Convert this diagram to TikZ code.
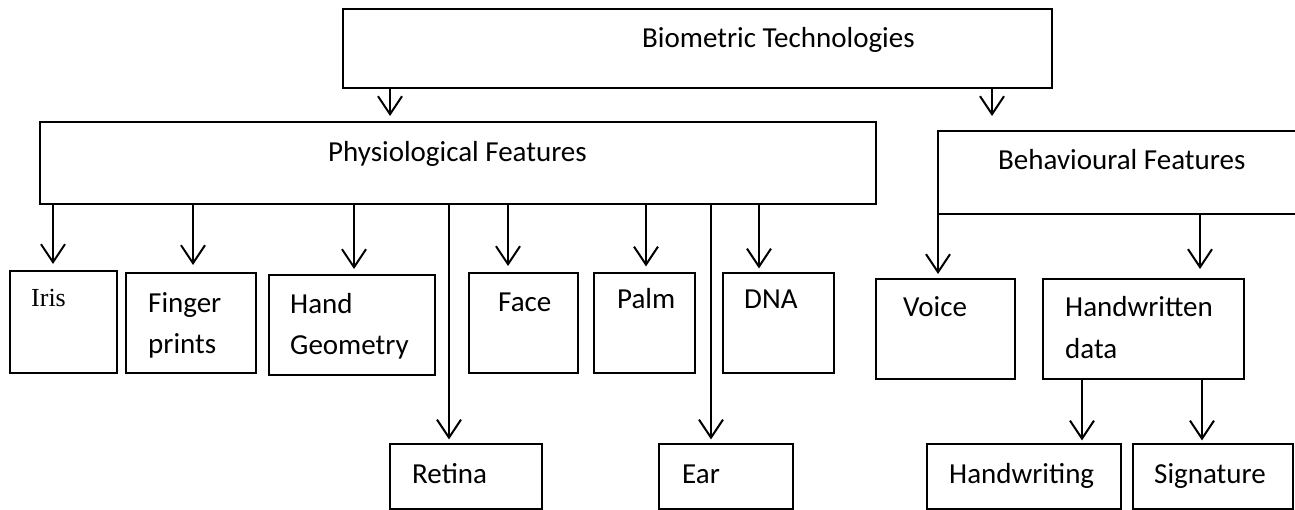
\documentclass[tikz,border=0pt]{standalone}
\usepackage{fontspec}
\setmainfont{Carlito}
\newfontfamily\timesfont{Liberation Serif}
\usetikzlibrary{arrows.meta}
\tikzstyle{box} = [rectangle, draw, line width=2pt, inner sep=0pt]
\tikzstyle{thinbox} = [rectangle, draw, line width=1.2pt, inner sep=0pt]
\tikzstyle{txt} = [anchor=base west, inner sep=0pt, align=left,
    font=\fontsize{29}{41}\selectfont]
\tikzstyle{line} = [draw, line width=2pt, shorten >=5pt,
    -{Straight Barb[length=18pt,width=24pt]}]

\begin{document}
\begin{tikzpicture}[x=1pt, y=-1pt]
  \useasboundingbox (0,0) rectangle (1295,510);
  \clip (0,0) rectangle (1295,510);
  % top levels
  \node [box, minimum width=709pt, minimum height=79pt] (bio) at (697.5,48.5) {};
  \node [box, minimum width=836pt, minimum height=82pt] (phys) at (458,163) {};
  \node [box, minimum width=402pt, minimum height=83pt] (behav) at (1139,172.5) {};
  \node [txt] (bio_t) at (642,48) {Biometric Technologies};
  \node [txt] (phys_t) at (328,162) {Physiological Features};
  \node [txt] (behav_t) at (998,170) {Behavioural Features};
  % physiological
  \node [box, minimum width=107pt, minimum height=102pt] (iris) at (63.5,322) {};
  \node [box, minimum width=130pt, minimum height=100pt] (finger) at (191,323) {};
  \node [box, minimum width=166pt, minimum height=100pt] (hand) at (352,325) {};
  \node [box, minimum width=109pt, minimum height=100pt] (face) at (523.5,323) {};
  \node [thinbox, minimum width=101pt, minimum height=100pt] (palm) at (644.5,323) {};
  \node [thinbox, minimum width=111pt, minimum height=100pt] (dna) at (778.5,323) {};
  \node [thinbox, minimum width=152pt, minimum height=65pt] (retina) at (466,476.5) {};
  \node [thinbox, minimum width=134pt, minimum height=65pt] (ear) at (726,476.5) {};
  \node [txt, font=\timesfont\fontsize{26}{30}\selectfont] (iris_t) at (31,307) {Iris};
  \node [txt] (finger_t) at (148,353) {Finger\\prints};
  \node [txt] (hand_t) at (290,355) {Hand\\Geometry};
  \node [txt] (face_t) at (498,312) {Face};
  \node [txt] (palm_t) at (617,309) {Palm};
  \node [txt] (dna_t) at (744,309) {DNA};
  \node [txt] (retina_t) at (412,483) {Retina};
  \node [txt] (ear_t) at (682,483) {Ear};
  % behavioural
  \node [box, minimum width=139pt, minimum height=100pt] (voice) at (945.5,329) {};
  \node [box, minimum width=201pt, minimum height=100pt] (hwdata) at (1143.5,329) {};
  \node [thinbox, minimum width=194pt, minimum height=65pt] (hwriting) at (1024,476.5) {};
  \node [thinbox, minimum width=160pt, minimum height=65pt] (sign) at (1213,476.5) {};
  \node [txt] (voice_t) at (903,317) {Voice};
  \node [txt] (hwdata_t) at (1065,358) {Handwritten\\data};
  \node [txt] (hwriting_t) at (949,483) {Handwriting};
  \node [txt] (sign_t) at (1154,483) {Signature};
  % where the arrows drop
  \coordinate (x_phys) at (390,0);
  \coordinate (x_behav) at (992,0);
  \coordinate (x_iris) at (53,0);
  \coordinate (x_finger) at (193,0);
  \coordinate (x_hand) at (354,0);
  \coordinate (x_retina) at (449,0);
  \coordinate (x_face) at (508,0);
  \coordinate (x_palm) at (646,0);
  \coordinate (x_ear) at (711,0);
  \coordinate (x_dna) at (759,0);
  \coordinate (x_voice) at (938,0);
  \coordinate (x_hwdata) at (1200,0);
  \coordinate (x_hwriting) at (1082,0);
  \coordinate (x_sign) at (1202,0);
  \path [line] (bio.south -| x_phys) -- (phys.north -| x_phys);
  \path [line, shorten >=14pt] (bio.south -| x_behav) -- (behav.north -| x_behav);
  \path [line, shorten >=6pt] (phys.south -| x_iris) -- (iris.north -| x_iris);
  \path [line, shorten >=7pt] (phys.south -| x_finger) -- (finger.north -| x_finger);
  \path [line] (phys.south -| x_hand) -- (hand.north -| x_hand);
  \path [line, shorten >=4pt] (phys.south -| x_retina) -- (retina.north -| x_retina);
  \path [line, shorten >=6pt] (phys.south -| x_face) -- (face.north -| x_face);
  \path [line, shorten >=6pt] (phys.south -| x_palm) -- (palm.north -| x_palm);
  \path [line, shorten >=4pt] (phys.south -| x_ear) -- (ear.north -| x_ear);
  \path [line, shorten >=4pt] (phys.south -| x_dna) -- (dna.north -| x_dna);
  \path [line, shorten >=4pt] (behav.south -| x_voice) -- (voice.north -| x_voice);
  \path [line, shorten >=9pt] (behav.south -| x_hwdata) -- (hwdata.north -| x_hwdata);
  \path [line, shorten >=3pt] (hwdata.south -| x_hwriting) -- (hwriting.north -| x_hwriting);
  \path [line, shorten >=3pt] (hwdata.south -| x_sign) -- (sign.north -| x_sign);
\end{tikzpicture}
\end{document}
